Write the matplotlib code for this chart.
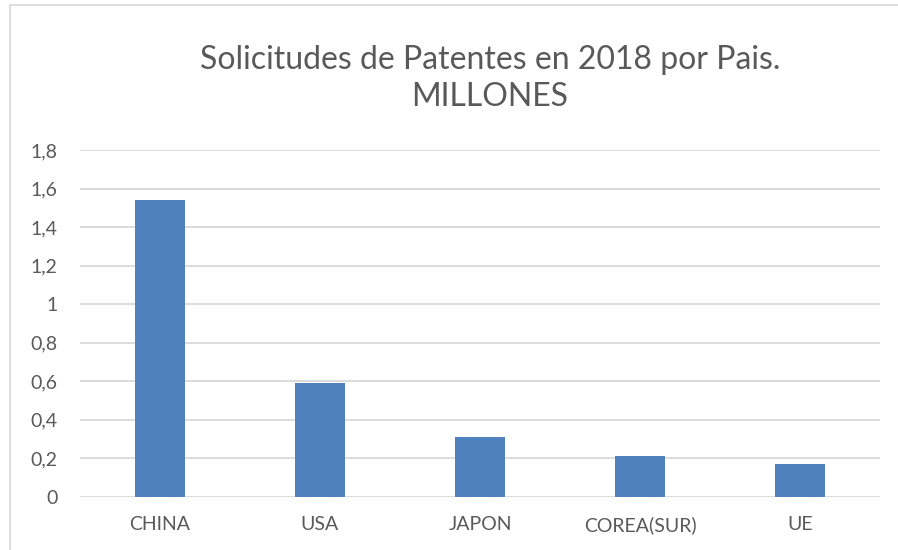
import matplotlib
matplotlib.use("Agg")
import matplotlib.pyplot as plt
from matplotlib.lines import Line2D

# data (millones de solicitudes)
paises = ["CHINA", "USA", "JAPON", "COREA(SUR)", "UE"]
solicitudes = [1.54, 0.59, 0.31, 0.21, 0.17]
y_ticks = [0, 0.2, 0.4, 0.6, 0.8, 1.0, 1.2, 1.4, 1.6, 1.8]

plt.rcParams['font.family'] = ['Lato', 'DejaVu Sans']
text_col = '#595959'

fig = plt.figure(figsize=(8.98, 5.5), dpi=100)
ax = fig.add_axes([80/898, 1 - 496.7/550, 800/898, (496.7 - 150)/550])

x = range(len(paises))
ax.bar(x, solicitudes, width=0.31, color='#4F81BD', zorder=3)

ax.set_xlim(-0.5, len(paises) - 0.5)
ax.set_ylim(0, 1.8)
ax.set_yticks(y_ticks)
ax.set_yticklabels([f"{v:g}".replace('.', ',') for v in y_ticks])
ax.set_xticks(list(x))
ax.set_xticklabels(paises)
ax.tick_params(axis='both', length=0, labelsize=14, colors=text_col)
ax.tick_params(axis='y', pad=16)
ax.tick_params(axis='x', pad=14)
ax.yaxis.grid(True, color='#D9D9D9', linewidth=1.3, zorder=0)
for s in ax.spines.values():
    s.set_visible(False)

fig.text(490/898, 1 - 60/550, "Solicitudes de Patentes en 2018 por Pais.",
         ha='center', va='center', fontsize=23, color=text_col)
fig.text(490/898, 1 - 97/550, "MILLONES",
         ha='center', va='center', fontsize=23, color=text_col)

# chart frame (only left and top edges visible)
fig.add_artist(Line2D([10/898, 10/898], [0, 1 - 5/550], color='#D9D9D9',
                      linewidth=1.2, transform=fig.transFigure))
fig.add_artist(Line2D([10/898, 1], [1 - 5/550, 1 - 5/550], color='#D9D9D9',
                      linewidth=1.2, transform=fig.transFigure))

fig.savefig("out.png", dpi=100)
